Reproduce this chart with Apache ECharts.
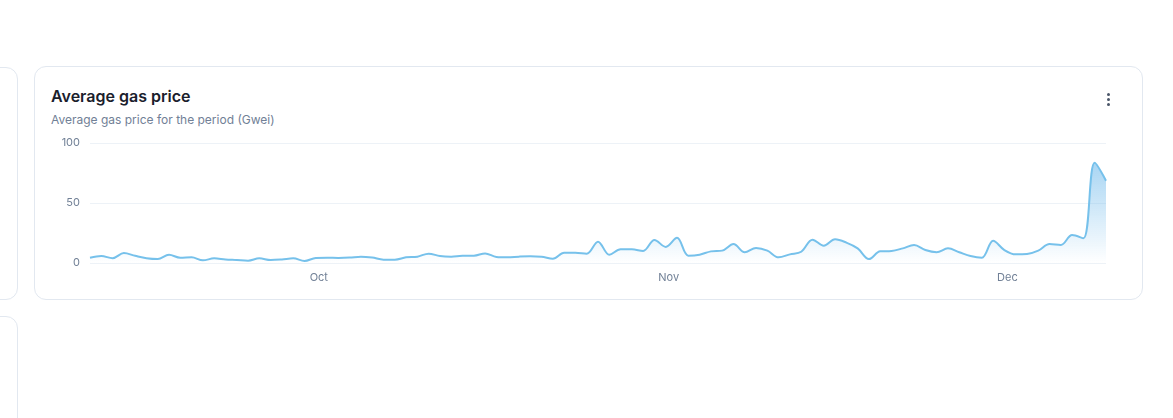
<!DOCTYPE html>
<html>
<head>
<meta charset="utf-8">
<script src="https://cdn.jsdelivr.net/npm/echarts@6/dist/echarts.min.js"></script>
<style>
  html, body { margin: 0; padding: 0; background: #fff; width: 1173px; height: 418px; overflow: hidden; font-family: Inter, "Noto Sans", sans-serif; }
  .card { position: absolute; border: 1px solid #e2e8f0; border-radius: 12px; background: #fff; box-sizing: border-box; }
  #c1 { left: -200px; top: 67px; width: 218px; height: 233px; }
  #c2 { left: -200px; top: 316px; width: 218px; height: 200px; }
  #main { left: 34px; top: 66px; width: 1109px; height: 234px; }
  .title { position: absolute; left: 16px; top: 19px; font-size: 16px; font-weight: 600; color: #1a202c; }
  .sub { position: absolute; left: 16px; top: 45px; font-size: 12px; color: #718096; }
  .dots { position: absolute; left: 1072px; top: 26px; width: 3px; }
  .dots span { display: block; width: 3px; height: 3px; border-radius: 50%; background: #4a5568; margin-bottom: 2px; }
  #chart { position: absolute; left: 0; top: 0; width: 1173px; height: 418px; }
</style>
</head>
<body>
<div class="card" id="c1"></div>
<div class="card" id="c2"></div>
<div class="card" id="main">
  <div class="title">Average gas price</div>
  <div class="sub">Average gas price for the period (Gwei)</div>
  <div class="dots"><span></span><span></span><span></span></div>
</div>
<div id="chart"></div>
<script>
// Daily dates from 2023-09-11 to 2023-12-10
const startDate = '2023-09-11';
const dayCount = 91;
const dates = [];
(function () {
  const d0 = new Date(startDate + 'T00:00:00Z');
  for (let i = 0; i < dayCount; i++) {
    const d = new Date(d0.getTime() + i * 86400000);
    dates.push(d.toISOString().slice(0, 10));
  }
})();

// Average gas price (Gwei)
const gasPrice = [
  4.4, 5.8, 4.0, 8.3, 6.0, 4.0, 3.3, 6.9, 4.4, 4.7,
  2.2, 3.9, 3.0, 2.5, 1.9, 3.9, 2.5, 3.0, 3.9, 1.7,
  4.2, 4.4, 4.2, 4.5, 5.3, 4.5, 2.8, 2.8, 4.7, 5.3,
  7.8, 5.8, 5.3, 6.1, 6.1, 8.0, 5.0, 4.7, 5.3, 5.6,
  5.3, 3.6, 8.6, 8.6, 7.8, 17.8, 6.9, 11.4, 11.4, 10.0,
  19.2, 13.4, 21.0, 6.1, 6.9, 9.7, 10.3, 15.8, 8.9, 12.5,
  10.3, 4.7, 7.2, 9.4, 19.4, 14.4, 19.7, 17.0, 12.2, 3.3,
  9.7, 10.0, 12.2, 15.0, 10.8, 9.0, 12.2, 9.0, 5.8, 4.4,
  18.6, 10.8, 7.2, 7.5, 10.3, 15.8, 15.0, 23.3, 20.6, 83.5,
  68.6
];

const monthNames = ['Jan','Feb','Mar','Apr','May','Jun','Jul','Aug','Sep','Oct','Nov','Dec'];
const yTicks = [0, 50, 100];

const chart = echarts.init(document.getElementById('chart'), null, { renderer: 'canvas' });
chart.setOption({
  animation: false,
  backgroundColor: 'transparent',
  grid: { left: 90, right: 67, top: 143, bottom: 155, containLabel: false },
  xAxis: {
    type: 'category',
    data: dates,
    boundaryGap: false,
    axisLine: { show: false },
    axisTick: { show: false },
    splitLine: { show: false },
    axisLabel: {
      interval: function (idx, val) { return val.slice(8, 10) === '01'; },
      formatter: function (val) { return monthNames[parseInt(val.slice(5, 7), 10) - 1]; },
      color: '#718096',
      fontSize: 11,
      fontFamily: 'Inter',
      margin: 9,
      padding: [0, 0, 0, 6]
    }
  },
  yAxis: {
    type: 'value',
    min: yTicks[0],
    max: yTicks[yTicks.length - 1],
    interval: 50,
    axisLine: { show: false },
    axisTick: { show: false },
    splitLine: { show: true, lineStyle: { color: '#edf2f7', width: 1 } },
    axisLabel: { color: '#718096', fontSize: 11, fontFamily: 'Inter', margin: 10, padding: [2, 0, 0, 0] }
  },
  series: [{
    type: 'line',
    data: gasPrice,
    smooth: 0.35,
    showSymbol: false,
    lineStyle: { color: '#76C1EB', width: 2 },
    itemStyle: { color: '#76C1EB' },
    areaStyle: {
      color: {
        type: 'linear', x: 0, y: 0, x2: 0, y2: 1,
        colorStops: [
          { offset: 0, color: 'rgba(110,185,235,0.85)' },
          { offset: 1, color: 'rgba(110,185,235,0)' }
        ]
      }
    }
  }]
});
</script>
</body>
</html>
